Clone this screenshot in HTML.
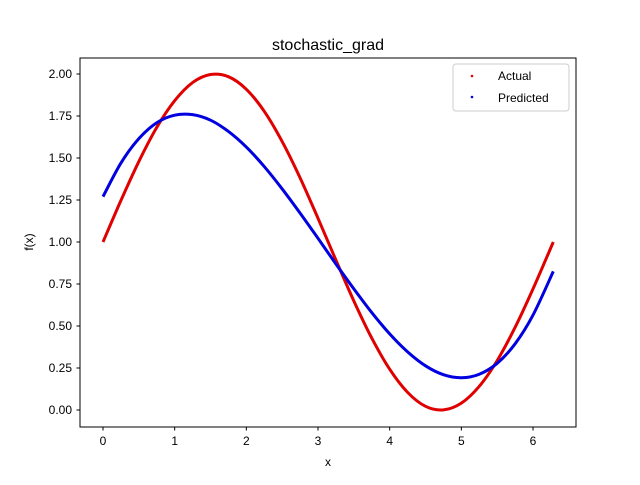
<!DOCTYPE html>
<html><head><meta charset="utf-8"><style>
body{margin:0;background:#fff;}
svg{font-family:"Liberation Sans","DejaVu Sans",sans-serif;}
</style></head><body>
<svg id="chart" width="640" height="480" xmlns="http://www.w3.org/2000/svg">
<rect width="640" height="480" fill="#fff"/>
<text x="328" y="50" font-size="16" text-anchor="middle">stochastic_grad</text>
<g id="ticks"></g>
<g id="series"></g>
<rect x="80" y="58" width="496" height="369" fill="none" stroke="#000" stroke-width="1"/>
<text x="328" y="466" font-size="12" text-anchor="middle">x</text>
<text x="0" y="0" font-size="12" text-anchor="middle" transform="translate(33,242) rotate(-90)">f(x)</text>
<g>
<rect x="453" y="64" width="116" height="47" rx="3" fill="#fff" stroke="#ccc"/>
<circle cx="472" cy="76" r="1.3" fill="#e00000"/>
<text x="498" y="80" font-size="12">Actual</text>
<circle cx="472" cy="97" r="1.3" fill="#0000e0"/>
<text x="498" y="102" font-size="12">Predicted</text>
</g>
</svg>
<script>
const xTicks=[0,1,2,3,4,5,6];
const yTicks=[0,0.25,0.5,0.75,1,1.25,1.5,1.75,2];
const actualX=[0,0.25,0.5,0.75,1,1.25,1.5,1.75,2,2.25,2.5,2.75,3,3.25,3.5,3.75,4,4.25,4.5,4.75,5,5.25,5.5,5.75,6,6.283];
const actualY=[1,1.247,1.479,1.682,1.841,1.949,1.997,1.984,1.909,1.778,1.598,1.382,1.141,0.892,0.649,0.428,0.243,0.105,0.022,0.001,0.041,0.141,0.294,0.492,0.721,1.0];
const predX=[0,0.25,0.5,0.75,1,1.25,1.5,1.75,2,2.25,2.5,2.75,3,3.25,3.5,3.75,4,4.25,4.5,4.75,5,5.25,5.5,5.75,6,6.283];
const predY=[1.27,1.47,1.615,1.71,1.755,1.758,1.725,1.658,1.565,1.449,1.316,1.172,1.022,0.869,0.721,0.58,0.453,0.346,0.263,0.21,0.192,0.213,0.278,0.394,0.565,0.825];
const NS="http://www.w3.org/2000/svg";
const sx=v=>103+v*71.67, sy=v=>410-v*168;
const tg=document.getElementById('ticks');
function mk(t,a){const e=document.createElementNS(NS,t);for(const k in a)e.setAttribute(k,a[k]);return e;}
xTicks.forEach(v=>{
 const l=mk('line',{x1:sx(v),x2:sx(v),y1:427,y2:430.5,stroke:'#000'});
 
 
 tg.appendChild(l);
 const t=mk('text',{x:sx(v),y:445,'font-size':12,'text-anchor':'middle'});
 
 
 t.textContent=v;tg.appendChild(t);
});
yTicks.forEach(v=>{
 const l=mk('line',{x1:76.5,x2:80,y1:sy(v),y2:sy(v),stroke:'#000'});
 
 
 tg.appendChild(l);
 const t=mk('text',{x:72,y:sy(v)+4,'font-size':12,'text-anchor':'end'});
 
 
 t.textContent=v.toFixed(2);tg.appendChild(t);
});
function pathD(xs,ys){
 const p=xs.map((x,i)=>[sx(x),sy(ys[i])]);
 let d='M'+p[0][0]+','+p[0][1];
 for(let i=0;i<p.length-1;i++){
  const p0=p[Math.max(0,i-1)],p1=p[i],p2=p[i+1],p3=p[Math.min(p.length-1,i+2)];
  const c1=[p1[0]+(p2[0]-p0[0])/6,p1[1]+(p2[1]-p0[1])/6];
  const c2=[p2[0]-(p3[0]-p1[0])/6,p2[1]-(p3[1]-p1[1])/6];
  d+=' C'+c1+' '+c2+' '+p2;
 }
 return d;
}
const sg=document.getElementById('series');
const a=mk('path',{d:pathD(actualX,actualY),fill:'none',stroke:'#e00000','stroke-width':3});


sg.appendChild(a);
const p=mk('path',{d:pathD(predX,predY),fill:'none',stroke:'#0000e0','stroke-width':3});


sg.appendChild(p);
</script>
</body></html>
